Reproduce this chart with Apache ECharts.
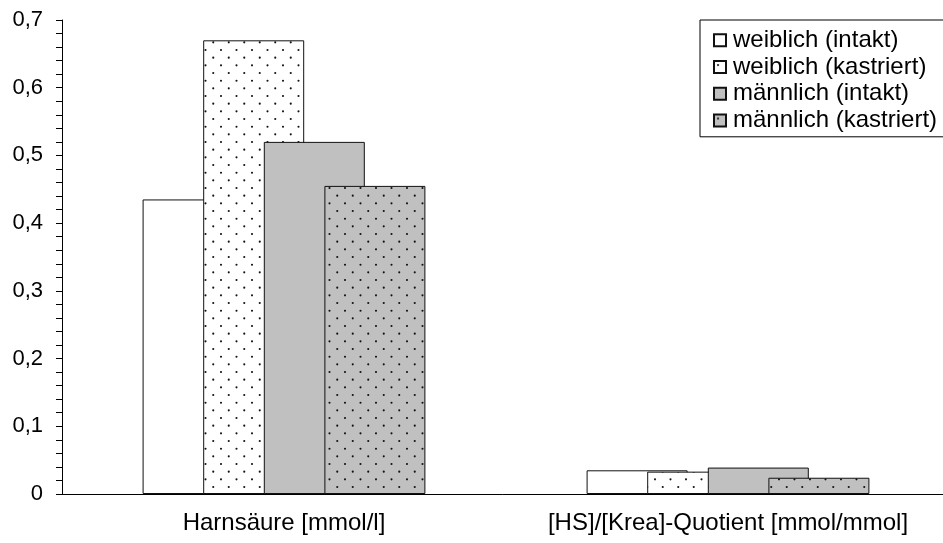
<!DOCTYPE html>
<html>
<head>
<meta charset="utf-8">
<script src="https://cdn.jsdelivr.net/npm/echarts@6/dist/echarts.min.js"></script>
<style>
  html, body { margin: 0; padding: 0; background: #fff; }
  #main { width: 943px; height: 543px; }
</style>
</head>
<body>
<div id="main"></div>
<script>
// data
const categories = ['Harnsäure [mmol/l]', '[HS]/[Krea]-Quotient [mmol/mmol]'];
const seriesNames = ['weiblich (intakt)', 'weiblich (kastriert)', 'männlich (intakt)', 'männlich (kastriert)'];
const wIntakt = [0.435, 0.035];
const wKastriert = [0.67, 0.033];
const mIntakt = [0.52, 0.039];
const mKastriert = [0.455, 0.024];

// dotted fill, staggered rows
function dots(bg) {
    const c = document.createElement('canvas');
    c.width = 31; c.height = 46;
    const ctx = c.getContext('2d');
    ctx.fillStyle = bg;
    ctx.fillRect(0, 0, c.width, c.height);
    ctx.fillStyle = '#111';
    for (let row = 0; row < 6; row++) {
        for (let col = 0; col < 2; col++) {
            const x = 4 + col * 15.5 + (row % 2) * 7.75;
            const y = 4 + row * 7.67;
            ctx.beginPath();
            ctx.arc(x, y, 1.05, 0, Math.PI * 2);
            ctx.fill();
        }
    }
    return { image: c, repeat: 'repeat' };
}

const fills = ['#ffffff', dots('#ffffff'), '#c0c0c0', dots('#c0c0c0')];
const values = [wIntakt, wKastriert, mIntakt, mKastriert];

let myChart = echarts.init(document.getElementById('main'));
let font = 'Liberation Sans, Arial, sans-serif';

let option = {
    animation: false,
    backgroundColor: '#fff',
    grid: { left: 62, top: 20, width: 888, height: 474, outerBoundsMode: 'none', containLabel: false },
    legend: {
        orient: 'vertical',
        left: 700,
        top: 20,
        padding: [7, 40, 3, 13],
        itemGap: 0,
        itemWidth: 12,
        itemHeight: 12,
        icon: 'rect',
        borderColor: '#000',
        borderWidth: 1,
        data: seriesNames,
        textStyle: { fontFamily: font, fontSize: 24, color: '#000', lineHeight: 26.7, padding: [0, 0, 0, 2] }
    },
    xAxis: {
        type: 'category',
        data: categories,
        axisLine: { lineStyle: { color: '#000', width: 1 } },
        axisTick: { length: 7, lineStyle: { color: '#000' } },
        axisLabel: { fontFamily: font, fontSize: 24, color: '#000', margin: 17, interval: 0, hideOverlap: false }
    },
    yAxis: {
        type: 'value',
        min: 0,
        max: 0.7,
        interval: 0.1,
        splitLine: { show: false },
        axisLine: { show: true, lineStyle: { color: '#000', width: 1 } },
        axisTick: { show: true, length: 6, lineStyle: { color: '#000' } },
        minorTick: { show: true, splitNumber: 5, length: 6, lineStyle: { color: '#000' } },
        axisLabel: {
            fontFamily: font, fontSize: 22, color: '#000', margin: 19,
            formatter: v => String(Math.round(v * 10) / 10).replace('.', ',')
        }
    },
    series: seriesNames.map((name, i) => ({
        name: name,
        type: 'bar',
        data: values[i],
        barWidth: 101,
        barGap: '-40%',
        itemStyle: { color: fills[i], borderColor: '#111', borderWidth: 1 }
    }))
};

myChart.setOption(option);
</script>
</body>
</html>
